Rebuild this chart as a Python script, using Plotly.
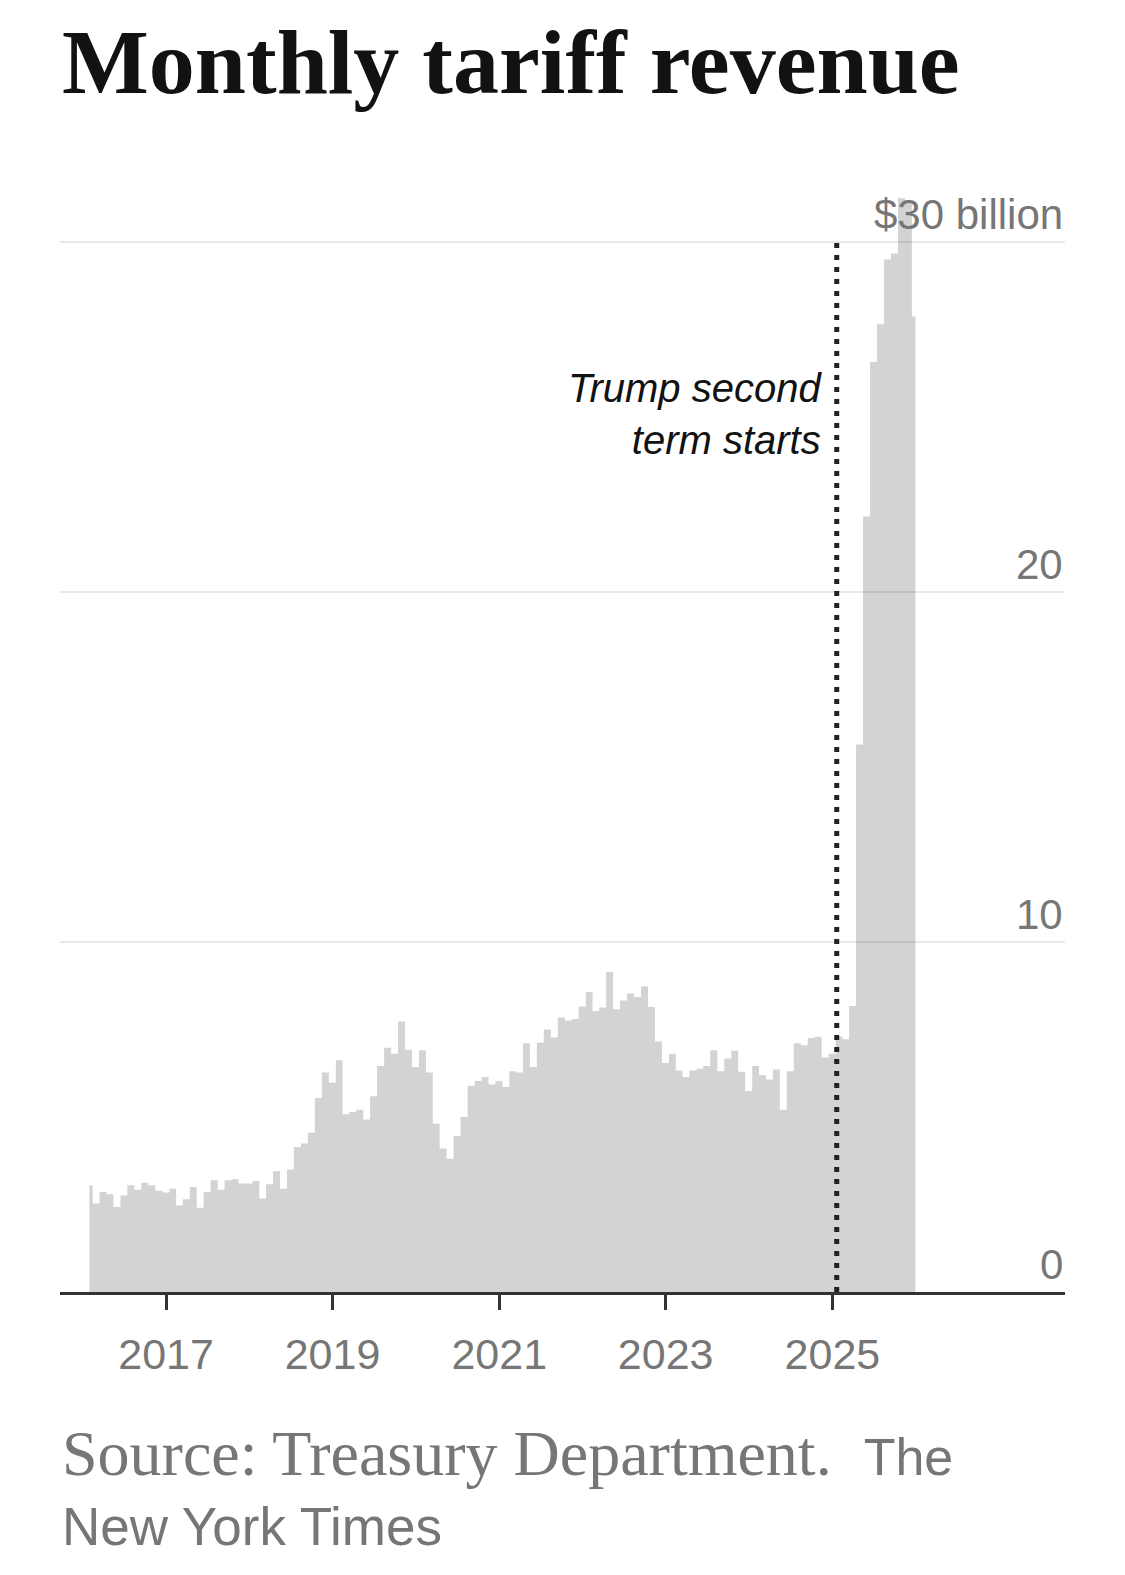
import pandas as pd
import plotly.graph_objects as go

# ---- data: monthly customs (tariff) revenue, $ billions ----
rev_2016 = [3.05, 2.53, 2.86, 2.79, 2.43, 2.76, 3.05, 2.92, 3.12, 3.05, 2.89, 2.84]
rev_2017 = [2.95, 2.48, 2.65, 3.00, 2.41, 2.86, 3.19, 2.92, 3.19, 3.22, 3.10, 3.10]
rev_2018 = [3.17, 2.67, 3.08, 3.45, 2.95, 3.50, 4.14, 4.24, 4.55, 5.54, 6.27, 5.98]
rev_2019 = [6.62, 5.08, 5.14, 5.21, 4.93, 5.59, 6.46, 6.98, 6.81, 7.73, 6.92, 6.43]
rev_2020 = [6.91, 6.27, 4.81, 4.10, 3.81, 4.46, 5.00, 5.89, 6.03, 6.14, 5.93, 6.03]
rev_2021 = [5.86, 6.31, 6.27, 7.11, 6.43, 7.12, 7.50, 7.27, 7.84, 7.76, 7.80, 8.16]
rev_2022 = [8.57, 8.03, 8.13, 9.14, 8.08, 8.33, 8.53, 8.43, 8.73, 8.14, 7.16, 6.54]
rev_2023 = [6.81, 6.33, 6.14, 6.33, 6.38, 6.46, 6.91, 6.31, 6.67, 6.89, 6.29, 5.74]
rev_2024 = [6.46, 6.19, 6.07, 6.36, 5.21, 6.31, 7.11, 7.05, 7.26, 7.29, 6.70, 6.81]
rev_2025 = [7.30, 7.22, 8.17, 15.64, 22.16, 26.57, 27.65, 29.50, 29.67, 31.25, 31.20, 27.87]

first_month = "2016-01-01"
revenue = (rev_2016 + rev_2017 + rev_2018 + rev_2019 + rev_2020 +
           rev_2021 + rev_2022 + rev_2023 + rev_2024 + rev_2025)
# each monthly total is dated at the end of its month
months = pd.date_range(first_month, periods=len(revenue), freq="MS") + pd.offsets.MonthEnd(0)

x_tick_years = [2017, 2019, 2021, 2023, 2025]
y_tick_vals = [0, 10, 20, 30]
y_tick_text = ["0", "10", "20", "$30 billion"]

term_start = "2025-01-20"
term_label = "Trump second<br>term starts"

title_text = "Monthly tariff revenue"
source_text = "Source: Treasury Department."
credit_1 = "The"
credit_2 = "New York Times"

x_range = ["2015-09-24", "2027-10-18"]
y_range = [0, 33]

GRAY_TEXT = "#767676"
INK = "#121212"
SANS = "Liberation Sans, Arial, sans-serif"
SERIF = "Liberation Serif, Times New Roman, serif"

fig = go.Figure()
fig.add_trace(go.Scatter(
    x=months, y=revenue,
    mode="lines", line=dict(shape="hvh", width=0, color="#d3d3d3"),
    fill="tozeroy", fillcolor="#d3d3d3",
    hoverinfo="skip", showlegend=False,
))

# gridlines drawn over the area (semi-transparent)
for v in y_tick_vals[1:]:
    fig.add_shape(type="line", xref="paper", yref="y", x0=0, x1=1, y0=v, y1=v,
                  line=dict(color="rgba(0,0,0,0.09)", width=2), layer="above")

# y labels (right side, above gridlines)
for v, t in zip(y_tick_vals, y_tick_text):
    fig.add_annotation(xref="paper", yref="y", x=1, y=v, text=t, showarrow=False,
                       xanchor="right", yanchor="middle", xshift=0, yshift=28,
                       font=dict(family=SANS, size=42, color=GRAY_TEXT))

# term start dotted line
fig.add_shape(type="line", xref="x", yref="y", x0=term_start, x1=term_start,
              y0=0, y1=max(y_tick_vals),
              line=dict(color="#222222", width=5, dash="5px,7px"), layer="above")
fig.add_annotation(xref="x", yref="y", x=term_start, y=25.1, text=term_label,
                   showarrow=False, xanchor="right", yanchor="middle", align="right",
                   xshift=-13,
                   font=dict(family=SANS, size=40, color=INK, style="italic"))

# title
fig.add_annotation(xref="paper", yref="paper", x=0, y=1.0650, text=title_text,
                   showarrow=False, xanchor="left", yanchor="middle", xshift=0,
                   font=dict(family=SERIF, size=92, color=INK, weight=700))

# source / credit
fig.add_annotation(xref="paper", yref="paper", x=0, y=-0.1394,
                   text=source_text + "  <span style='font-family:Liberation Sans, Arial, sans-serif;font-size:52px'>"
                   + credit_1 + "</span>",
                   showarrow=False, xanchor="left", yanchor="middle", xshift=0,
                   font=dict(family=SERIF, size=64, color=GRAY_TEXT))
fig.add_annotation(xref="paper", yref="paper", x=0, y=-0.2026, text=credit_2,
                   showarrow=False, xanchor="left", yanchor="middle", xshift=0,
                   font=dict(family=SANS, size=53, color=GRAY_TEXT))

# the page body adds an 8px offset; margins compensate so the plot lands at 60..1065 x, 137..1292 y
fig.update_layout(
    width=1125, height=1575,
    margin=dict(l=52, r=68, t=129, b=291, pad=0),
    paper_bgcolor="white", plot_bgcolor="white",
    showlegend=False,
    xaxis=dict(
        type="date", range=x_range,
        tickvals=[f"{y}-01-01" for y in x_tick_years],
        ticktext=[str(y) for y in x_tick_years],
        ticks="outside", ticklen=15, tickwidth=2.5, tickcolor="#333333",
        ticklabelstandoff=7,
        tickfont=dict(family=SANS, size=43, color=GRAY_TEXT),
        showline=True, linecolor="#333333", linewidth=3,
        showgrid=False, zeroline=False, fixedrange=True,
    ),
    yaxis=dict(
        range=y_range, showgrid=False, zeroline=False, showticklabels=False,
        showline=False, ticks="", fixedrange=True,
    ),
)

fig.write_html("out.html")
